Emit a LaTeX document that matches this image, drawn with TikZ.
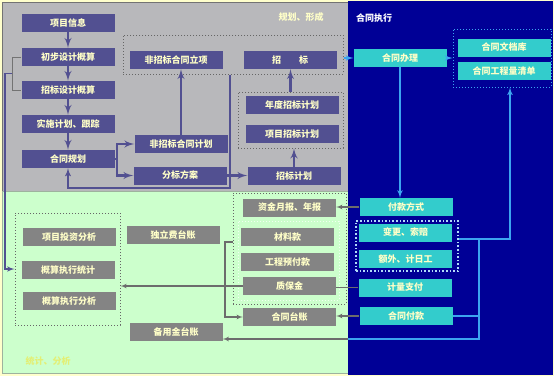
\documentclass[tikz,border=0pt]{standalone}
\usepackage{fontspec}
\newfontfamily\cjk{Noto Sans CJK SC}
\usetikzlibrary{arrows,calc,positioning}

\definecolor{bgyellow}{RGB}{255,255,204}
\definecolor{bggray}{RGB}{184,184,187}
\definecolor{bgblue}{RGB}{0,0,150}
\definecolor{bggreen}{RGB}{204,255,204}
\definecolor{boxpurple}{RGB}{82,80,145}
\definecolor{boxgray}{RGB}{132,132,132}
\definecolor{boxcyan}{RGB}{51,204,204}
\definecolor{linkblue}{RGB}{60,165,240}
\definecolor{txtyellow}{RGB}{255,255,200}

\begin{document}
\begin{tikzpicture}[x=1pt,y=-1pt]

\tikzset{box/.style = {minimum width=93pt, minimum height=18pt, inner sep=0pt, text=txtyellow, font=\cjk\bfseries\fontsize{9}{11}\selectfont}}
\tikzset{pbox/.style = {box, fill=boxpurple}}
\tikzset{gbox/.style = {box, fill=boxgray}}
\tikzset{cbox/.style = {box, fill=boxcyan}}
\tikzset{frame/.style = {draw=gray!80!black, dotted, line width=1pt, inner sep=0pt}}
\tikzset{pedge/.style = {->, line width=2.4pt, draw=boxpurple, > = latex'}}
\tikzset{bedge/.style = {->, line width=1.6pt, draw=linkblue, > = latex'}}
\tikzset{gedge/.style = {->, line width=1.1pt, draw=gray!85!black, > = latex'}}

\useasboundingbox (0,0) rectangle (554,376);

% regions
\fill[bgyellow] (0,0) rectangle (554,376);
\draw[fill=bggray, draw=gray!90!black] (2,2) rectangle (348,191);
\draw[fill=bggreen, draw=gray!60!bggreen] (2,191) rectangle (348,373);
\fill[bgblue] (348,1) rectangle (553,375);

\node[text=txtyellow, font=\cjk\bfseries\fontsize{9}{11}\selectfont] (tgh) at (301,17) {规划、形成};
\node[text=white, font=\cjk\bfseries\fontsize{9}{11}\selectfont] (tzx) at (374,18) {合同执行};
\node[text=yellow!45!bggreen, font=\cjk\bfseries\fontsize{9}{11}\selectfont] (ttj) at (48,361) {统计、分析};

% frames
\node[frame, minimum width=220pt, minimum height=39pt] (f1) at (233,54.5) {};
\node[frame, minimum width=105pt, minimum height=56pt] (f2) at (290.5,120) {};
\node[frame, minimum width=105pt, minimum height=112pt] (f3) at (67.5,269) {};
\node[frame, minimum width=113pt, minimum height=111pt] (f4) at (289.5,248.5) {};
\node[frame, draw=white!70!bggreen, minimum width=101pt, minimum height=79pt] (f5) at (288.5,260.5) {};
\node[frame, draw=linkblue, minimum width=98pt, minimum height=58pt] (f6) at (502,58) {};
\node[frame, draw=white!60!linkblue, line width=1.6pt, minimum width=102pt, minimum height=50pt] (f7) at (407,246) {};

% vertices
\node[pbox] (xmxx) at (68,23) {项目信息};
\node[pbox] (cbsj) at (68,57) {初步设计概算};
\node[pbox] (zbsj) at (68,90) {招标设计概算};
\node[pbox] (ssjh) at (68,124) {实施计划、跟踪};
\node[pbox] (htgh) at (68,159) {合同规划};

\node[pbox] (fzlx) at (176,60) {非招标合同立项};
\node[pbox] (zb) at (290,60) {招\qquad 标};
\node[pbox] (ndjh) at (292,105) {年度招标计划};
\node[pbox] (xmjh) at (292,134) {项目招标计划};
\node[pbox] (fzjh) at (181,144) {非招标合同计划};
\node[pbox] (fbfa) at (180,175.5) {分标方案};
\node[pbox] (zbjh) at (294,176) {招标计划};

\node[cbox] (htbl) at (400,58) {合同办理};
\node[cbox] (htwd) at (504,47.5) {合同文档库};
\node[cbox] (htqd) at (504,71) {合同工程量清单};
\node[cbox] (fkfs) at (406,207) {付款方式};
\node[cbox] (bgsp) at (405.5,232.5) {变更、索赔};
\node[cbox] (ewjr) at (405.5,259) {额外、计日工};
\node[cbox] (jlzf) at (405,287.5) {计量支付};
\node[cbox] (htfk) at (406,316) {合同付款};

\node[gbox] (tzfx) at (69,237) {项目投资分析};
\node[gbox] (zxtj) at (68,270) {概算执行统计};
\node[gbox] (zxfx) at (69,301) {概算执行分析};
\node[gbox] (dlf) at (173,235) {独立费台账};
\node[gbox] (byj) at (176,332) {备用金台账};
\node[gbox] (zjyb) at (289.5,207.5) {资金月报、年报};
\node[gbox] (clk) at (287.5,237) {材料款};
\node[gbox] (yfk) at (287.5,262) {工程预付款};
\node[gbox] (zbj) at (289.5,286) {质保金};
\node[gbox] (httz) at (289.5,317) {合同台账};

% edges
\draw[pedge] (xmxx) -- (cbsj);
\draw[pedge] (cbsj) -- (zbsj);
\draw[pedge] (zbsj) -- (ssjh);
\draw[pedge] (ssjh) -- (htgh);
\draw[pedge] (fzjh) -- (fzjh |- fzlx.south);
\draw[pedge] (f2.north) -- (f2.north |- zb.south);
\draw[pedge] (zbjh.north) -- (zbjh.north |- f2.south);
\draw[pedge] (fbfa.east) -- (fbfa.east -| zbjh.west);

\coordinate (sp) at (117,159);
\draw[pedge, -] (htgh.east) -- (sp);
\draw[pedge] (sp) |- (fzjh.west);
\draw[pedge] (sp) |- (fbfa.west);

\coordinate (fb) at (230,188);
\draw[pedge, line width=1.8pt] (f1.south -| fb) -- (fb) -| (htgh.south);

\coordinate (bm) at (12,73.5);
\draw[draw=gray!90!black, line width=1pt] (cbsj.west) -- (cbsj.west -| bm) -- (zbsj.west -| bm) -- (zbsj.west);
\draw[pedge, line width=1.5pt] (bm) -- (5,73.5) |- (f3.west);

\draw[bedge] (f1.east |- htbl.west) -- (htbl.west);
\draw[bedge] (htbl.east) -- (htbl.east -| f6.west);
\draw[bedge] (htbl.south) -- (htbl.south |- fkfs.north);

\coordinate (rb) at (510,239);
\draw[bedge] (f7.east |- rb) -- (rb) -- (rb |- f6.south);

\coordinate (rd) at (479,339);
\coordinate (gb) at (348,339);
\draw[bedge, -] (htfk.east) -- (htfk.east -| rd);
\draw[bedge, -] (rd |- rb) -- (rd) -- (gb);
\draw[gedge] (gb) -- (gb -| byj.east);

\draw[gedge] (fkfs.west) -- (fkfs.west -| zjyb.east);
\draw[gedge, -] (jlzf.west) -- (jlzf.west -| zbj.east);
\draw[gedge] (zbj.west) -- (zbj.west -| f3.east);
\draw[gedge] (htfk.west) -- (htfk.west -| httz.east);

\coordinate (bk) at (225,242);
\draw[gedge] (f4.west |- bk) -- (bk) |- (httz.west);

\end{tikzpicture}
\end{document}
